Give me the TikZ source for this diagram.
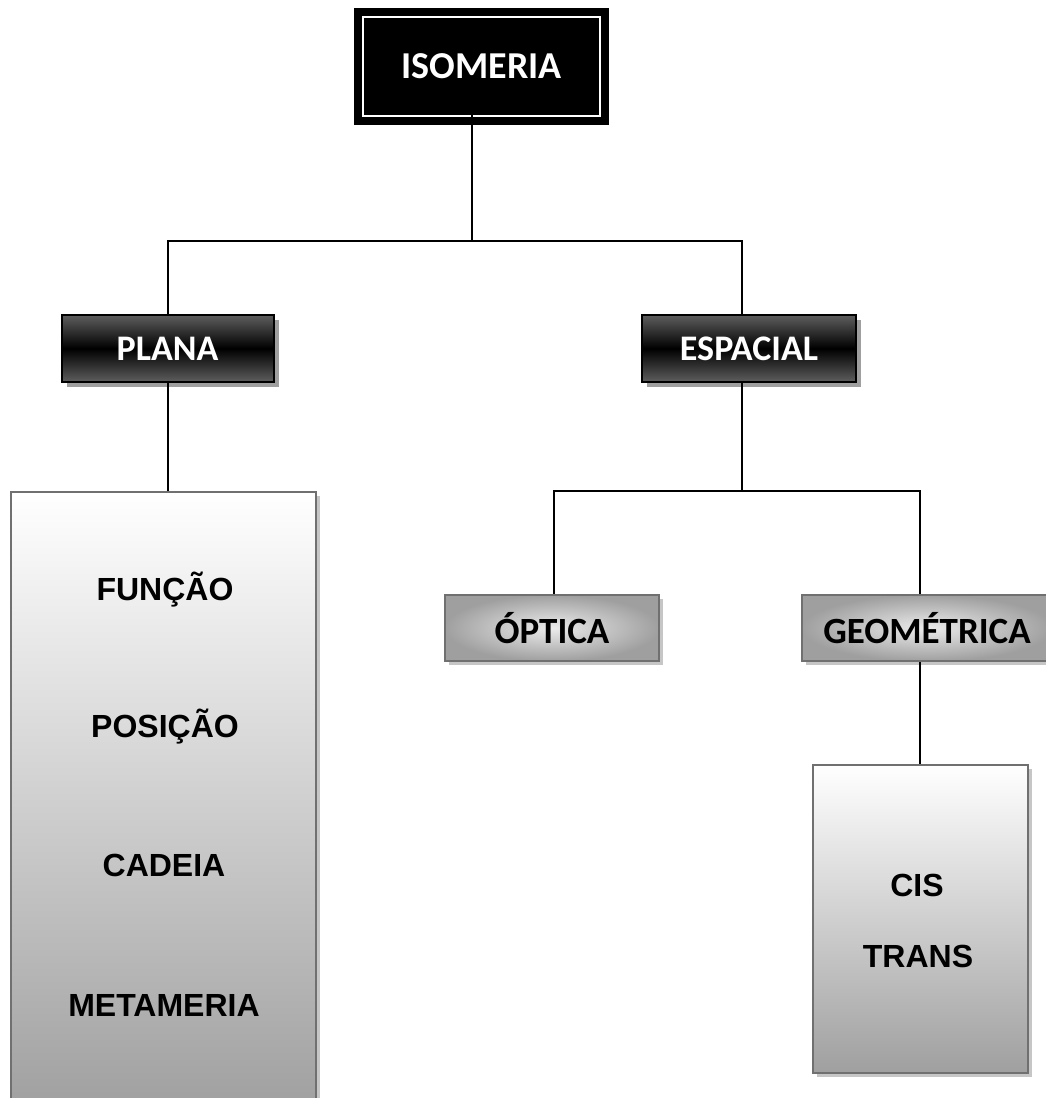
\documentclass[tikz,border=0pt]{standalone}
\usepackage{fontspec}
\newfontfamily\calfont{Carlito}
\newfontfamily\arifont{Liberation Sans}
\usetikzlibrary{shadows,calc}
\definecolor{bord}{HTML}{707070}
\definecolor{darkend}{HTML}{5E5E5E}
\begin{document}
\begin{tikzpicture}[x=1pt,y=-1pt,
  conn/.style={draw=black,line width=2pt},
  darkbox/.style={draw=black,line width=2pt,minimum height=67pt,inner sep=0pt,
    top color=darkend,bottom color=darkend,middle color=black,
    drop shadow={shadow xshift=5pt,shadow yshift=-5pt,fill=gray!75,opacity=1},
    text=white,font=\calfont\bfseries\fontsize{36}{40}\selectfont},
  graybox/.style={draw=bord,line width=2pt,minimum height=66pt,inner sep=0pt,
    shading=radial,inner color=gray!15,outer color=gray!75,
    drop shadow={shadow xshift=4pt,shadow yshift=-4pt,fill=gray!45,opacity=1},
    text=black,font=\calfont\bfseries\fontsize{37}{40}\selectfont},
  listbox/.style={draw=bord,line width=2pt,inner sep=0pt,
    top color=white,bottom color=gray!75,
    drop shadow={shadow xshift=4pt,shadow yshift=-4pt,fill=gray!45,opacity=1}},
  itemtext/.style={font=\arifont\bfseries\fontsize{32}{36}\selectfont,text=black}]
\useasboundingbox[fill=white] (0,0) rectangle (1045,1098);

% root
\node[fill=black,minimum width=255pt,minimum height=117pt,inner sep=0pt,
  text=white,font=\calfont\bfseries\fontsize{38}{40}\selectfont] (iso) at (481.5,66.5) {ISOMERIA};
\draw[white,line width=2pt] ([xshift=9pt,yshift=-9pt]iso.north west) rectangle ([xshift=-9pt,yshift=9pt]iso.south east);

% level 1
\node[darkbox,minimum width=212pt] (plana) at (167.5,348.5) {PLANA};
\node[darkbox,minimum width=214pt] (espacial) at (749,348.5) {ESPACIAL};

% left list
\node[listbox,minimum width=305pt,minimum height=620pt] (left) at (163.5,802) {};
\node[itemtext] (funcao) at (165,590) {FUNÇÃO};
\node[itemtext] (posicao) at (165,727) {POSIÇÃO};
\node[itemtext] (cadeia) at (164,865) {CADEIA};
\node[itemtext] (metameria) at (164,1005) {METAMERIA};

% level 2
\node[graybox,minimum width=214pt] (optica) at (552,628) {ÓPTICA};
\node[graybox,minimum width=250pt] (geo) at (927,628) {GEOMÉTRICA};

% cis/trans box
\node[listbox,minimum width=215pt,minimum height=308pt] (cisbox) at (920.5,919) {};
\node[itemtext] (cis) at (917,885) {CIS};
\node[itemtext] (trans) at (918,956) {TRANS};

% connectors
\coordinate (ax) at (472,241);
\coordinate (bl) at (168,241);
\coordinate (br) at (742,241);
\coordinate (cx) at (742,491);
\coordinate (cl) at (554,491);
\coordinate (cr) at (920,491);
\coordinate (gx) at (920,700);

\draw[conn] ([yshift=10pt]iso.south -| ax) -- (ax);
\draw[conn] (plana.north -| bl) -- (bl) -- (br) -- (espacial.north -| br);
\draw[conn] (plana.south -| bl) -- (left.north -| bl);
\draw[conn] (espacial.south -| cx) -- (cx);
\draw[conn] (optica.north -| cl) -- (cl) -- (cr) -- (geo.north -| cr);
\draw[conn] (geo.south -| gx) -- (cisbox.north -| gx);
\end{tikzpicture}
\end{document}
